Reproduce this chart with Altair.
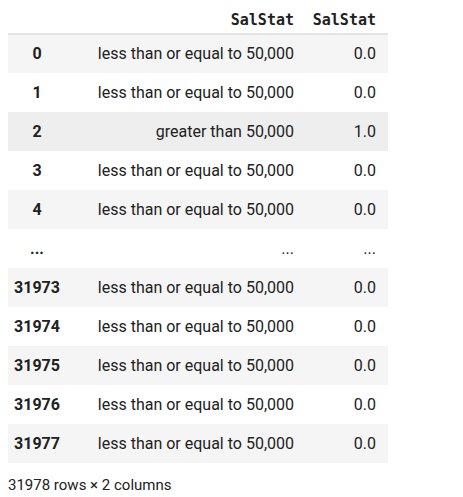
import altair as alt
import pandas as pd

index_labels = ["0", "1", "2", "3", "4", "...", "31973", "31974", "31975", "31976", "31977"]
salstat_text = ["less than or equal to 50,000"] * 2 + ["greater than 50,000"] + \
    ["less than or equal to 50,000"] * 2 + ["..."] + ["less than or equal to 50,000"] * 5
salstat_num = ["0.0", "0.0", "1.0", "0.0", "0.0", "...", "0.0", "0.0", "0.0", "0.0", "0.0"]
stripe = ["#f5f5f5", "#ffffff", "#eeeeee", "#ffffff", "#f5f5f5", "#ffffff",
          "#f5f5f5", "#ffffff", "#f5f5f5", "#ffffff", "#f5f5f5"]
headers = ["SalStat", "SalStat"]
footer = "31978 rows × 2 columns"

df = pd.DataFrame({
    "row": list(range(len(index_labels))),
    "idx": index_labels,
    "txt": salstat_text,
    "num": salstat_num,
    "bg": stripe,
})

W, H = 440, 429
y = alt.Y("row:O", axis=None, scale=alt.Scale(paddingInner=0, paddingOuter=0))
base = alt.Chart(df)

bands = base.mark_rect().encode(
    x=alt.value(0), x2=alt.value(380), y=y, color=alt.Color("bg:N", scale=None)
)
font = "Roboto"
idx = base.mark_text(font=font, fontSize=16, fontWeight="bold", align="center", color="#212121").encode(
    x=alt.value(29), y=y, text="idx:N")
txt = base.mark_text(font=font, fontSize=16, align="right", color="#212121").encode(
    x=alt.value(286), y=y, text="txt:N")
num = base.mark_text(font=font, fontSize=16, align="right", color="#212121").encode(
    x=alt.value(368), y=y, text="num:N")

hdr = alt.Chart(pd.DataFrame({"h": headers, "pos": [286, 368]})).mark_text(
    font="DejaVu Sans Mono", fontSize=15, fontWeight="bold", align="right", color="#212121"
).encode(x=alt.X("pos:Q", scale=None), y=alt.value(-14), text="h:N")

line = alt.Chart(pd.DataFrame({"a": [0]})).mark_rule(color="#dddddd", strokeWidth=1.5).encode(
    x=alt.value(0), x2=alt.value(380), y=alt.value(0))

foot = alt.Chart(pd.DataFrame({"f": [footer]})).mark_text(
    font=font, fontSize=15, align="left", color="#212121"
).encode(x=alt.value(0), y=alt.value(451), text="f:N")

chart = alt.layer(bands, line, idx, txt, num, hdr, foot).properties(
    width=W, height=H, autosize="none",
    padding={"top": 26, "left": 0, "right": 0, "bottom": 30}
).configure_view(stroke=None)

chart.save("out.html", embed_options={"renderer": "svg", "actions": False})
